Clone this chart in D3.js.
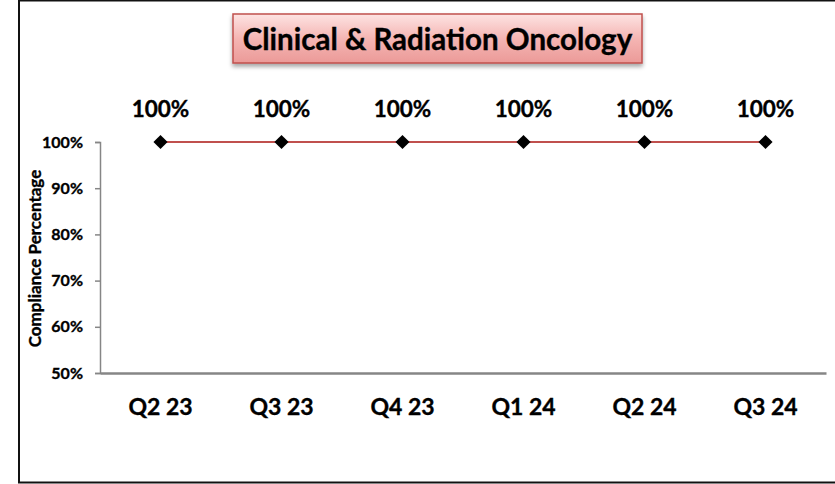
<!DOCTYPE html>
<html>
<head>
<meta charset="utf-8">
<script src="https://cdn.jsdelivr.net/npm/d3@7"></script>
<style>
  body { margin: 0; background: #fff; }
  text { font-family: Lato, "Open Sans", sans-serif; font-weight: bold; }
</style>
</head>
<body>
<div id="viz"></div>
<script>
const quarters = ["Q2 23", "Q3 23", "Q4 23", "Q1 24", "Q2 24", "Q3 24"];
const compliance = [1, 1, 1, 1, 1, 1];
const yTicks = [0.5, 0.6, 0.7, 0.8, 0.9, 1.0];
const chartTitle = "Clinical & Radiation Oncology";

const width = 835, height = 484;
const margin = { left: 100, right: 9, top: 142, bottom: 111 };

const svg = d3.select("#viz").append("svg")
  .attr("width", width).attr("height", height);

const defs = svg.append("defs");
let grad = defs.append("linearGradient").attr("id", "titleFill")
  .attr("x1", 0).attr("y1", 0).attr("x2", 0).attr("y2", 1);
grad.append("stop").attr("offset", "0%").attr("stop-color", "#fde4e3");
grad.append("stop").attr("offset", "50%").attr("stop-color", "#f5b5b3");
grad.append("stop").attr("offset", "100%").attr("stop-color", "#eb9a98");
let shadow = defs.append("filter").attr("id", "shadow")
  .attr("x", "-10%").attr("y", "-20%").attr("width", "120%").attr("height", "160%");
shadow.append("feDropShadow").attr("dx", 0).attr("dy", 3)
  .attr("stdDeviation", 2).attr("flood-color", "#000").attr("flood-opacity", 0.35);

// outer frame
svg.append("rect")
  .attr("x", 19).attr("y", 0.5).attr("width", width + 10).attr("height", 482)
  .attr("fill", "none").attr("stroke", "#111").attr("stroke-width", 2);

const innerW = width - margin.left - margin.right;
const innerH = height - margin.top - margin.bottom;

const x = d3.scaleBand().domain(quarters).range([0, innerW]);
const y = d3.scaleLinear().domain([0.5, 1]).range([innerH, 0]);

const g = svg.append("g").attr("transform", `translate(${margin.left},${margin.top})`);

// y axis
const yAxis = g.append("g")
  .call(d3.axisLeft(y).tickValues(yTicks).tickFormat(d3.format(".0%")).tickSize(5).tickPadding(12));
yAxis.select(".domain").attr("stroke", "#868686").attr("stroke-width", 1.5);
yAxis.selectAll(".tick line").attr("stroke", "#868686").attr("stroke-width", 1.5);
yAxis.selectAll(".tick text").attr("font-size", 16).attr("fill", "#000")
  .attr("font-family", "Lato, sans-serif").attr("font-weight", "bold");

// x axis
const xAxis = g.append("g").attr("transform", `translate(0,${innerH})`)
  .call(d3.axisBottom(x).tickSize(0).tickPadding(26));
xAxis.select(".domain").attr("stroke", "#868686").attr("stroke-width", 2.5);
xAxis.selectAll(".tick text").attr("font-size", 23).attr("fill", "#000")
  .attr("font-family", "Lato, sans-serif").attr("font-weight", "bold");

// y axis title
svg.append("text")
  .attr("transform", `translate(41,${margin.top + innerH / 2 + 1}) rotate(-90)`)
  .attr("text-anchor", "middle")
  .attr("font-size", 17)
  .text("Compliance Percentage");

// line
const cx = (d, i) => x(quarters[i]) + x.bandwidth() / 2;
g.append("path")
  .datum(compliance)
  .attr("d", d3.line().x(cx).y((d) => y(d)))
  .attr("fill", "none")
  .attr("stroke", "#c0504d")
  .attr("stroke-width", 2);

// markers
g.selectAll(".marker")
  .data(compliance)
  .join("path")
  .attr("class", "marker")
  .attr("transform", (d, i) => `translate(${cx(d, i)},${y(d)})`)
  .attr("d", d3.symbol(d3.symbolDiamond2, 128))
  .attr("fill", "#000");

// data labels
g.selectAll(".label")
  .data(compliance)
  .join("text")
  .attr("class", "label")
  .attr("x", cx)
  .attr("y", (d) => y(d) - 25)
  .attr("text-anchor", "middle")
  .attr("font-size", 22.5)
  .text((d) => d3.format(".0%")(d));

// title box
const tb = svg.append("g");
tb.append("rect")
  .attr("x", 233).attr("y", 14).attr("width", 409).attr("height", 49)
  .attr("fill", "url(#titleFill)")
  .attr("stroke", "#c0504d").attr("stroke-width", 1.5)
  .attr("filter", "url(#shadow)");
tb.append("text")
  .attr("x", 437.5).attr("y", 50)
  .attr("text-anchor", "middle")
  .attr("font-size", 29.5)
  .text(chartTitle);

svg.selectAll("text").attr("stroke", "#000").attr("stroke-width", 0.35);
</script>
</body>
</html>
